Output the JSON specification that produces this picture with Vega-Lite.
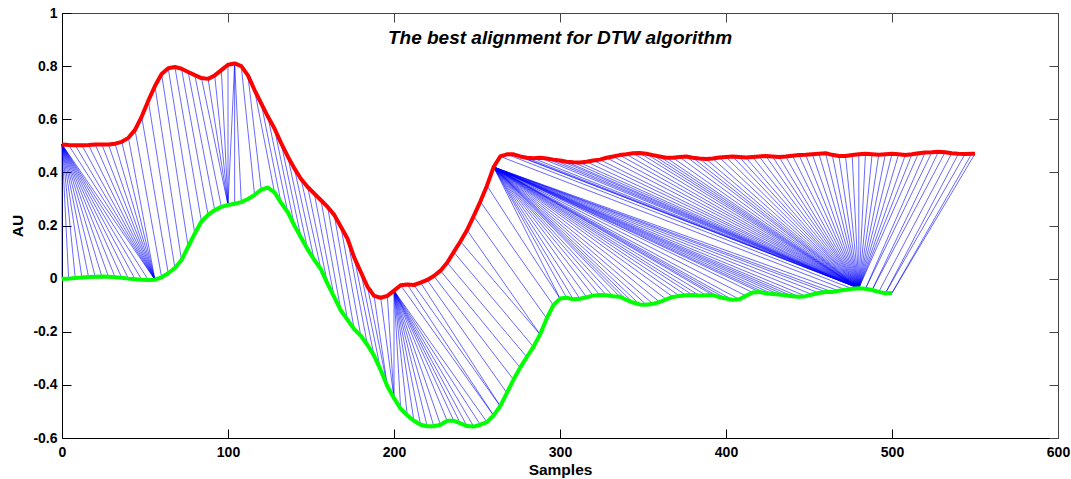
{
"$schema": "https://vega.github.io/schema/vega-lite/v6.json",
"width": 996, "height": 425,
"autosize": {"type": "none"},
"padding": {"left": 62, "top": 13, "right": 13, "bottom": 41},
"background": "white",
"title": {"text": "The best alignment for DTW algorithm", "font": "Liberation Sans", "fontSize": 19, "fontWeight": "bold", "fontStyle": "italic", "color": "black", "anchor": "middle", "baseline": "alphabetic", "offset": -57},
"config": {"view": {"stroke": null}},
"datasets": {
"curves": [
{"s":0,"red":0.505,"green":0.0},{"s":4,"red":0.503,"green":0.0},{"s":8,"red":0.502,"green":0.002},{"s":12,"red":0.502,"green":0.004},{"s":16,"red":0.503,"green":0.006},{"s":20,"red":0.505,"green":0.007},{"s":24,"red":0.505,"green":0.008},{"s":28,"red":0.505,"green":0.007},{"s":32,"red":0.508,"green":0.005},{"s":36,"red":0.515,"green":0.003},
{"s":40,"red":0.53,"green":0.0},{"s":44,"red":0.56,"green":-0.002},{"s":48,"red":0.61,"green":-0.004},{"s":52,"red":0.67,"green":-0.005},{"s":56,"red":0.725,"green":-0.004},{"s":60,"red":0.77,"green":0.005},{"s":64,"red":0.792,"green":0.02},{"s":68,"red":0.797,"green":0.04},{"s":72,"red":0.79,"green":0.07},{"s":76,"red":0.778,"green":0.12},
{"s":80,"red":0.766,"green":0.17},{"s":84,"red":0.755,"green":0.215},{"s":88,"red":0.752,"green":0.24},{"s":92,"red":0.765,"green":0.258},{"s":96,"red":0.785,"green":0.27},{"s":100,"red":0.805,"green":0.277},{"s":104,"red":0.81,"green":0.282},{"s":108,"red":0.8,"green":0.288},{"s":112,"red":0.765,"green":0.3},{"s":116,"red":0.71,"green":0.315},
{"s":120,"red":0.66,"green":0.335},{"s":124,"red":0.61,"green":0.343},{"s":128,"red":0.565,"green":0.325},{"s":132,"red":0.51,"green":0.285},{"s":136,"red":0.46,"green":0.25},{"s":140,"red":0.415,"green":0.2},{"s":144,"red":0.375,"green":0.155},{"s":148,"red":0.345,"green":0.11},{"s":152,"red":0.32,"green":0.07},{"s":156,"red":0.295,"green":0.035},
{"s":160,"red":0.27,"green":-0.02},{"s":164,"red":0.24,"green":-0.07},{"s":168,"red":0.195,"green":-0.12},{"s":172,"red":0.15,"green":-0.155},{"s":176,"red":0.08,"green":-0.19},{"s":180,"red":0.025,"green":-0.215},{"s":184,"red":-0.03,"green":-0.25},{"s":188,"red":-0.065,"green":-0.29},{"s":192,"red":-0.072,"green":-0.345},{"s":196,"red":-0.065,"green":-0.405},
{"s":200,"red":-0.045,"green":-0.45},{"s":204,"red":-0.025,"green":-0.49},{"s":208,"red":-0.022,"green":-0.515},{"s":212,"red":-0.024,"green":-0.535},{"s":216,"red":-0.015,"green":-0.55},{"s":220,"red":-0.005,"green":-0.556},{"s":224,"red":0.01,"green":-0.556},{"s":228,"red":0.03,"green":-0.55},{"s":232,"red":0.06,"green":-0.535},{"s":236,"red":0.1,"green":-0.535},
{"s":240,"red":0.14,"green":-0.545},{"s":244,"red":0.183,"green":-0.555},{"s":248,"red":0.235,"green":-0.557},{"s":252,"red":0.29,"green":-0.55},{"s":256,"red":0.35,"green":-0.54},{"s":260,"red":0.42,"green":-0.515},{"s":264,"red":0.46,"green":-0.48},{"s":268,"red":0.468,"green":-0.43},{"s":272,"red":0.468,"green":-0.38},{"s":276,"red":0.46,"green":-0.335},
{"s":280,"red":0.455,"green":-0.295},{"s":284,"red":0.453,"green":-0.257},{"s":288,"red":0.455,"green":-0.21},{"s":292,"red":0.452,"green":-0.15},{"s":296,"red":0.448,"green":-0.1},{"s":300,"red":0.445,"green":-0.075},{"s":304,"red":0.44,"green":-0.072},{"s":308,"red":0.438,"green":-0.078},{"s":312,"red":0.437,"green":-0.076},{"s":316,"red":0.44,"green":-0.07},
{"s":320,"red":0.445,"green":-0.064},{"s":324,"red":0.448,"green":-0.062},{"s":328,"red":0.455,"green":-0.063},{"s":332,"red":0.46,"green":-0.066},{"s":336,"red":0.465,"green":-0.068},{"s":340,"red":0.468,"green":-0.08},{"s":344,"red":0.472,"green":-0.09},{"s":348,"red":0.473,"green":-0.097},{"s":352,"red":0.47,"green":-0.098},{"s":356,"red":0.465,"green":-0.095},
{"s":360,"red":0.46,"green":-0.088},{"s":364,"red":0.455,"green":-0.078},{"s":368,"red":0.455,"green":-0.069},{"s":372,"red":0.458,"green":-0.065},{"s":376,"red":0.46,"green":-0.063},{"s":380,"red":0.455,"green":-0.062},{"s":384,"red":0.452,"green":-0.064},{"s":388,"red":0.45,"green":-0.063},{"s":392,"red":0.452,"green":-0.062},{"s":396,"red":0.456,"green":-0.07},
{"s":400,"red":0.458,"green":-0.075},{"s":404,"red":0.46,"green":-0.08},{"s":408,"red":0.458,"green":-0.078},{"s":412,"red":0.456,"green":-0.065},{"s":416,"red":0.458,"green":-0.052},{"s":420,"red":0.46,"green":-0.05},{"s":424,"red":0.462,"green":-0.055},{"s":428,"red":0.46,"green":-0.058},{"s":432,"red":0.458,"green":-0.06},{"s":436,"red":0.46,"green":-0.063},
{"s":440,"red":0.463,"green":-0.066},{"s":444,"red":0.465,"green":-0.068},{"s":448,"red":0.466,"green":-0.066},{"s":452,"red":0.468,"green":-0.06},{"s":456,"red":0.47,"green":-0.054},{"s":460,"red":0.472,"green":-0.05},{"s":464,"red":0.466,"green":-0.05},{"s":468,"red":0.462,"green":-0.046},{"s":472,"red":0.462,"green":-0.042},{"s":476,"red":0.465,"green":-0.038},
{"s":480,"red":0.468,"green":-0.036},{"s":484,"red":0.47,"green":-0.038},{"s":488,"red":0.468,"green":-0.043},{"s":492,"red":0.466,"green":-0.05},{"s":496,"red":0.468,"green":-0.055},{"s":500,"red":0.47,"green":-0.054},{"s":504,"red":0.468},{"s":508,"red":0.465},{"s":512,"red":0.468},{"s":516,"red":0.472},
{"s":520,"red":0.475},{"s":524,"red":0.476},{"s":528,"red":0.478},{"s":532,"red":0.476},{"s":536,"red":0.472},{"s":540,"red":0.47},{"s":544,"red":0.469},{"s":548,"red":0.47},{"s":550,"red":0.47}
],
"links": [
{"r":0,"g":0,"rv":0.505,"gv":0.0},{"r":0,"g":4,"rv":0.505,"gv":0.0},{"r":0,"g":8,"rv":0.505,"gv":0.002},{"r":0,"g":12,"rv":0.505,"gv":0.004},{"r":0,"g":16,"rv":0.505,"gv":0.006},{"r":0,"g":20,"rv":0.505,"gv":0.007},{"r":0,"g":24,"rv":0.505,"gv":0.008},{"r":0,"g":28,"rv":0.505,"gv":0.007},{"r":0,"g":32,"rv":0.505,"gv":0.005},{"r":0,"g":36,"rv":0.505,"gv":0.003},{"r":0,"g":40,"rv":0.505,"gv":0.0},{"r":0,"g":44,"rv":0.505,"gv":-0.002},{"r":0,"g":48,"rv":0.505,"gv":-0.004},{"r":0,"g":52,"rv":0.505,"gv":-0.005},{"r":0,"g":56,"rv":0.505,"gv":-0.004},
{"r":4,"g":56,"rv":0.503,"gv":-0.004},{"r":8,"g":56,"rv":0.502,"gv":-0.004},{"r":12,"g":56,"rv":0.502,"gv":-0.004},{"r":16,"g":56,"rv":0.503,"gv":-0.004},{"r":20,"g":56,"rv":0.505,"gv":-0.004},{"r":24,"g":56,"rv":0.505,"gv":-0.004},{"r":28,"g":56,"rv":0.505,"gv":-0.004},{"r":32,"g":56,"rv":0.508,"gv":-0.004},{"r":36,"g":56,"rv":0.515,"gv":-0.004},{"r":40,"g":56,"rv":0.53,"gv":-0.004},
{"r":44,"g":60,"rv":0.56,"gv":0.005},{"r":48,"g":64,"rv":0.61,"gv":0.02},{"r":52,"g":68,"rv":0.67,"gv":0.04},{"r":56,"g":72,"rv":0.725,"gv":0.07},{"r":60,"g":76,"rv":0.77,"gv":0.12},{"r":64,"g":80,"rv":0.792,"gv":0.17},{"r":68,"g":84,"rv":0.797,"gv":0.215},{"r":72,"g":88,"rv":0.79,"gv":0.24},{"r":76,"g":92,"rv":0.778,"gv":0.258},{"r":80,"g":96,"rv":0.766,"gv":0.27},{"r":84,"g":100,"rv":0.755,"gv":0.277},
{"r":88,"g":100,"rv":0.752,"gv":0.277},{"r":92,"g":100,"rv":0.765,"gv":0.277},{"r":96,"g":100,"rv":0.785,"gv":0.277},{"r":100,"g":100,"rv":0.805,"gv":0.277},{"r":104,"g":100,"rv":0.81,"gv":0.277},
{"r":104,"g":104,"rv":0.81,"gv":0.282},{"r":104,"g":108,"rv":0.81,"gv":0.288},{"r":108,"g":116,"rv":0.8,"gv":0.315},{"r":112,"g":120,"rv":0.765,"gv":0.335},{"r":116,"g":128,"rv":0.71,"gv":0.325},{"r":120,"g":132,"rv":0.66,"gv":0.285},{"r":124,"g":136,"rv":0.61,"gv":0.25},{"r":128,"g":140,"rv":0.565,"gv":0.2},{"r":132,"g":144,"rv":0.51,"gv":0.155},{"r":136,"g":148,"rv":0.46,"gv":0.11},{"r":140,"g":152,"rv":0.415,"gv":0.07},{"r":144,"g":156,"rv":0.375,"gv":0.035},{"r":148,"g":160,"rv":0.345,"gv":-0.02},{"r":152,"g":164,"rv":0.32,"gv":-0.07},{"r":156,"g":168,"rv":0.295,"gv":-0.12},{"r":160,"g":172,"rv":0.27,"gv":-0.155},{"r":164,"g":176,"rv":0.24,"gv":-0.19},{"r":168,"g":180,"rv":0.195,"gv":-0.215},{"r":172,"g":184,"rv":0.15,"gv":-0.25},{"r":176,"g":188,"rv":0.08,"gv":-0.29},{"r":180,"g":192,"rv":0.025,"gv":-0.345},{"r":184,"g":196,"rv":-0.03,"gv":-0.405},{"r":188,"g":196,"rv":-0.065,"gv":-0.405},{"r":192,"g":200,"rv":-0.072,"gv":-0.45},{"r":196,"g":200,"rv":-0.065,"gv":-0.45},
{"r":200,"g":200,"rv":-0.045,"gv":-0.45},{"r":200,"g":204,"rv":-0.045,"gv":-0.49},{"r":200,"g":208,"rv":-0.045,"gv":-0.515},{"r":200,"g":212,"rv":-0.045,"gv":-0.535},{"r":200,"g":216,"rv":-0.045,"gv":-0.55},{"r":200,"g":220,"rv":-0.045,"gv":-0.556},{"r":200,"g":224,"rv":-0.045,"gv":-0.556},{"r":200,"g":228,"rv":-0.045,"gv":-0.55},{"r":200,"g":232,"rv":-0.045,"gv":-0.535},{"r":200,"g":236,"rv":-0.045,"gv":-0.535},{"r":200,"g":240,"rv":-0.045,"gv":-0.545},{"r":200,"g":244,"rv":-0.045,"gv":-0.555},{"r":200,"g":248,"rv":-0.045,"gv":-0.557},{"r":200,"g":252,"rv":-0.045,"gv":-0.55},{"r":200,"g":256,"rv":-0.045,"gv":-0.54},
{"r":204,"g":260,"rv":-0.025,"gv":-0.515},{"r":208,"g":260,"rv":-0.022,"gv":-0.515},{"r":212,"g":264,"rv":-0.024,"gv":-0.48},{"r":216,"g":264,"rv":-0.015,"gv":-0.48},{"r":220,"g":268,"rv":-0.005,"gv":-0.43},{"r":224,"g":272,"rv":0.01,"gv":-0.38},{"r":228,"g":276,"rv":0.03,"gv":-0.335},{"r":232,"g":280,"rv":0.06,"gv":-0.295},{"r":236,"g":284,"rv":0.1,"gv":-0.257},{"r":240,"g":288,"rv":0.14,"gv":-0.21},{"r":244,"g":288,"rv":0.183,"gv":-0.21},{"r":248,"g":292,"rv":0.235,"gv":-0.15},{"r":252,"g":296,"rv":0.29,"gv":-0.1},{"r":256,"g":300,"rv":0.35,"gv":-0.075},
{"r":260,"g":300,"rv":0.42,"gv":-0.075},{"r":260,"g":304,"rv":0.42,"gv":-0.072},{"r":260,"g":308,"rv":0.42,"gv":-0.078},{"r":260,"g":312,"rv":0.42,"gv":-0.076},{"r":260,"g":316,"rv":0.42,"gv":-0.07},{"r":260,"g":320,"rv":0.42,"gv":-0.064},{"r":260,"g":324,"rv":0.42,"gv":-0.062},{"r":260,"g":328,"rv":0.42,"gv":-0.063},{"r":260,"g":332,"rv":0.42,"gv":-0.066},{"r":260,"g":336,"rv":0.42,"gv":-0.068},{"r":260,"g":340,"rv":0.42,"gv":-0.08},{"r":260,"g":344,"rv":0.42,"gv":-0.09},{"r":260,"g":348,"rv":0.42,"gv":-0.097},{"r":260,"g":352,"rv":0.42,"gv":-0.098},{"r":260,"g":356,"rv":0.42,"gv":-0.095},{"r":260,"g":360,"rv":0.42,"gv":-0.088},{"r":260,"g":364,"rv":0.42,"gv":-0.078},{"r":260,"g":368,"rv":0.42,"gv":-0.069},{"r":260,"g":372,"rv":0.42,"gv":-0.065},{"r":260,"g":376,"rv":0.42,"gv":-0.063},{"r":260,"g":380,"rv":0.42,"gv":-0.062},{"r":260,"g":384,"rv":0.42,"gv":-0.064},{"r":260,"g":388,"rv":0.42,"gv":-0.063},{"r":260,"g":392,"rv":0.42,"gv":-0.062},{"r":260,"g":396,"rv":0.42,"gv":-0.07},{"r":260,"g":400,"rv":0.42,"gv":-0.075},{"r":260,"g":404,"rv":0.42,"gv":-0.08},{"r":260,"g":408,"rv":0.42,"gv":-0.078},{"r":260,"g":412,"rv":0.42,"gv":-0.065},{"r":260,"g":416,"rv":0.42,"gv":-0.052},{"r":260,"g":420,"rv":0.42,"gv":-0.05},{"r":260,"g":424,"rv":0.42,"gv":-0.055},{"r":260,"g":428,"rv":0.42,"gv":-0.058},{"r":260,"g":432,"rv":0.42,"gv":-0.06},{"r":260,"g":436,"rv":0.42,"gv":-0.063},{"r":260,"g":440,"rv":0.42,"gv":-0.066},{"r":260,"g":444,"rv":0.42,"gv":-0.068},{"r":260,"g":448,"rv":0.42,"gv":-0.066},{"r":260,"g":452,"rv":0.42,"gv":-0.06},{"r":260,"g":456,"rv":0.42,"gv":-0.054},{"r":260,"g":460,"rv":0.42,"gv":-0.05},{"r":260,"g":464,"rv":0.42,"gv":-0.05},{"r":260,"g":468,"rv":0.42,"gv":-0.046},
{"r":264,"g":472,"rv":0.46,"gv":-0.042},{"r":268,"g":476,"rv":0.468,"gv":-0.038},{"r":272,"g":480,"rv":0.468,"gv":-0.036},{"r":276,"g":480,"rv":0.46,"gv":-0.036},{"r":280,"g":480,"rv":0.455,"gv":-0.036},{"r":284,"g":480,"rv":0.453,"gv":-0.036},{"r":288,"g":480,"rv":0.455,"gv":-0.036},{"r":292,"g":480,"rv":0.452,"gv":-0.036},{"r":296,"g":480,"rv":0.448,"gv":-0.036},{"r":300,"g":480,"rv":0.445,"gv":-0.036},{"r":304,"g":480,"rv":0.44,"gv":-0.036},{"r":308,"g":480,"rv":0.438,"gv":-0.036},{"r":312,"g":480,"rv":0.437,"gv":-0.036},{"r":316,"g":480,"rv":0.44,"gv":-0.036},{"r":320,"g":480,"rv":0.445,"gv":-0.036},{"r":324,"g":480,"rv":0.448,"gv":-0.036},{"r":328,"g":480,"rv":0.455,"gv":-0.036},{"r":332,"g":480,"rv":0.46,"gv":-0.036},{"r":336,"g":480,"rv":0.465,"gv":-0.036},{"r":340,"g":480,"rv":0.468,"gv":-0.036},{"r":344,"g":480,"rv":0.472,"gv":-0.036},{"r":348,"g":480,"rv":0.473,"gv":-0.036},{"r":352,"g":480,"rv":0.47,"gv":-0.036},{"r":356,"g":480,"rv":0.465,"gv":-0.036},{"r":360,"g":480,"rv":0.46,"gv":-0.036},{"r":364,"g":480,"rv":0.455,"gv":-0.036},{"r":368,"g":480,"rv":0.455,"gv":-0.036},{"r":372,"g":480,"rv":0.458,"gv":-0.036},{"r":376,"g":480,"rv":0.46,"gv":-0.036},{"r":380,"g":480,"rv":0.455,"gv":-0.036},{"r":384,"g":480,"rv":0.452,"gv":-0.036},{"r":388,"g":480,"rv":0.45,"gv":-0.036},{"r":392,"g":480,"rv":0.452,"gv":-0.036},{"r":396,"g":480,"rv":0.456,"gv":-0.036},{"r":400,"g":480,"rv":0.458,"gv":-0.036},{"r":404,"g":480,"rv":0.46,"gv":-0.036},{"r":408,"g":480,"rv":0.458,"gv":-0.036},{"r":412,"g":480,"rv":0.456,"gv":-0.036},{"r":416,"g":480,"rv":0.458,"gv":-0.036},{"r":420,"g":480,"rv":0.46,"gv":-0.036},{"r":424,"g":480,"rv":0.462,"gv":-0.036},{"r":428,"g":480,"rv":0.46,"gv":-0.036},{"r":432,"g":480,"rv":0.458,"gv":-0.036},{"r":436,"g":480,"rv":0.46,"gv":-0.036},{"r":440,"g":480,"rv":0.463,"gv":-0.036},{"r":444,"g":480,"rv":0.465,"gv":-0.036},{"r":448,"g":480,"rv":0.466,"gv":-0.036},{"r":452,"g":480,"rv":0.468,"gv":-0.036},{"r":456,"g":480,"rv":0.47,"gv":-0.036},{"r":460,"g":480,"rv":0.472,"gv":-0.036},{"r":464,"g":480,"rv":0.466,"gv":-0.036},{"r":468,"g":480,"rv":0.462,"gv":-0.036},{"r":472,"g":480,"rv":0.462,"gv":-0.036},{"r":476,"g":480,"rv":0.465,"gv":-0.036},{"r":480,"g":480,"rv":0.468,"gv":-0.036},{"r":484,"g":480,"rv":0.47,"gv":-0.036},{"r":488,"g":480,"rv":0.468,"gv":-0.036},{"r":492,"g":480,"rv":0.466,"gv":-0.036},{"r":496,"g":480,"rv":0.468,"gv":-0.036},{"r":500,"g":480,"rv":0.47,"gv":-0.036},{"r":504,"g":480,"rv":0.468,"gv":-0.036},{"r":508,"g":480,"rv":0.465,"gv":-0.036},{"r":512,"g":480,"rv":0.468,"gv":-0.036},{"r":516,"g":480,"rv":0.472,"gv":-0.036},
{"r":520,"g":484,"rv":0.475,"gv":-0.038},{"r":524,"g":484,"rv":0.476,"gv":-0.038},{"r":528,"g":488,"rv":0.478,"gv":-0.043},{"r":532,"g":488,"rv":0.476,"gv":-0.043},{"r":536,"g":492,"rv":0.472,"gv":-0.05},{"r":540,"g":496,"rv":0.47,"gv":-0.055},{"r":544,"g":496,"rv":0.469,"gv":-0.055},{"r":548,"g":500,"rv":0.47,"gv":-0.054},{"r":550,"g":500,"rv":0.47,"gv":-0.054}
]
},
"layer": [
{
"data": {"name": "links"},
"mark": {"type": "rule", "color": "#0000ff", "strokeWidth": 0.7, "opacity": 0.85},
"encoding": {
"x": {"field": "r", "type": "quantitative", "scale": {"domain": [0, 600], "nice": false, "zero": false},
"axis": {"orient": "bottom", "values": [0,100,200,300,400,500,600], "labelExpr": "'' + datum.value", "tickSize": -9, "tickColor": "black", "domainColor": "black", "grid": false, "labelFont": "Liberation Sans", "labelFontSize": 14, "labelFontWeight": "bold", "labelColor": "black", "labelPadding": 16, "labelFlush": false, "labelOverlap": false, "title": "Samples", "titleFont": "Liberation Sans", "titleFontSize": 15.5, "titleFontWeight": "bold", "titleColor": "black", "titlePadding": 3}},
"y": {"field": "rv", "type": "quantitative", "scale": {"domain": [-0.6, 1], "nice": false, "zero": false},
"axis": {"orient": "left", "values": [-0.6,-0.4,-0.2,0,0.2,0.4,0.6,0.8,1], "labelExpr": "'' + datum.value", "tickSize": -9, "tickColor": "black", "domainColor": "black", "grid": false, "labelFont": "Liberation Sans", "labelFontSize": 14, "labelFontWeight": "bold", "labelColor": "black", "labelPadding": 14, "labelFlush": false, "labelOverlap": false, "title": "AU", "titleFont": "Liberation Sans", "titleFontSize": 15.5, "titleFontWeight": "bold", "titleColor": "black", "titlePadding": 7}},
"x2": {"field": "g"},
"y2": {"field": "gv"}
}
},
{
"data": {"name": "curves"},
"mark": {"type": "line", "color": "#ff0000", "strokeWidth": 4, "strokeJoin": "round"},
"encoding": {
"x": {"field": "s", "type": "quantitative", "axis": {"orient": "top", "values": [0,100,200,300,400,500,600], "labels": false, "tickSize": -9, "tickColor": "#444444", "domainColor": "#444444", "grid": false, "title": null}},
"y": {"field": "red", "type": "quantitative", "axis": {"orient": "right", "values": [-0.6,-0.4,-0.2,0,0.2,0.4,0.6,0.8,1], "labels": false, "tickSize": -9, "tickColor": "#444444", "domainColor": "#444444", "grid": false, "title": null}}
}
},
{
"data": {"name": "curves"},
"transform": [{"filter": "isValid(datum.green)"}],
"mark": {"type": "line", "color": "#00ff00", "strokeWidth": 4, "strokeJoin": "round"},
"encoding": {
"x": {"field": "s", "type": "quantitative", "axis": null},
"y": {"field": "green", "type": "quantitative", "axis": null}
}
}
],
"resolve": {"axis": {"x": "independent", "y": "independent"}}
}
